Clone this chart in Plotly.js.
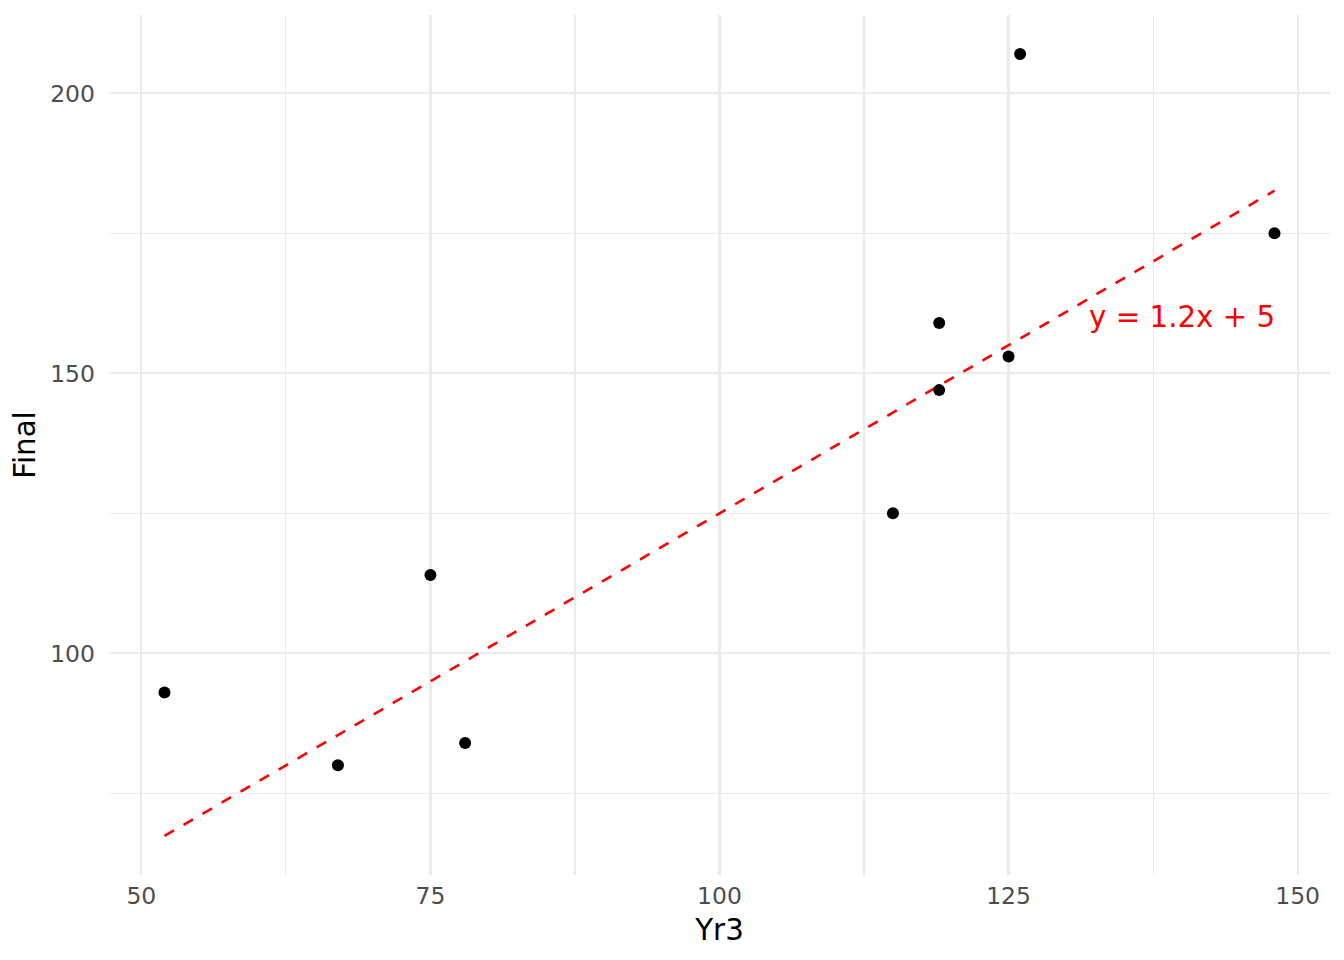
<!DOCTYPE html>
<html>
<head>
<meta charset="utf-8">
<script src="https://cdn.plot.ly/plotly-3.0.1.min.js"></script>
<style>html,body{margin:0;padding:0;background:#fff;}#chart{width:1344px;height:960px;}</style>
</head>
<body>
<div id="chart"></div>
<script>
const yr3 = [52, 67, 75, 78, 115, 119, 119, 125, 126, 148];
const finalScore = [93, 80, 114, 84, 125, 159, 147, 153, 207, 175];
const fitX = [52, 148];
const fitY = [67.4, 182.6];
const fitLabel = "y = 1.2x + 5";
const labelPos = [140, 160];
const xTicks = [50, 75, 100, 125, 150];
const yTicks = [100, 150, 200];

const font = "DejaVu Sans, sans-serif";

const traces = [
  {
    x: fitX, y: fitY, mode: "lines", type: "scatter",
    line: {color: "#FF0000", width: 2.6, dash: "11px,11px"},
    hoverinfo: "skip", showlegend: false
  },
  {
    x: yr3, y: finalScore, mode: "markers", type: "scatter",
    marker: {color: "#000000", size: 12},
    showlegend: false
  }
];

const layout = {
  width: 1344, height: 960,
  paper_bgcolor: "#FFFFFF", plot_bgcolor: "#FFFFFF",
  margin: {l: 109, r: 14, t: 15, b: 85},
  showlegend: false,
  font: {family: font},
  xaxis: {
    range: [47.2, 152.8],
    tickvals: xTicks, ticktext: xTicks.map(String),
    showgrid: true, gridcolor: "#EBEBEB", gridwidth: 2.2,
    minor: {tick0: 62.5, dtick: 25, showgrid: true, gridcolor: "#EBEBEB", gridwidth: 1.1},
    zeroline: false, showline: false, ticks: "",
    tickfont: {family: font, size: 23.5, color: "#4D4D4D"},
    ticklabelstandoff: 4,
    title: {text: "Yr3", font: {family: font, size: 29.3, color: "#000000"}, standoff: 10}
  },
  yaxis: {
    range: [60.42, 213.98],
    tickvals: yTicks, ticktext: yTicks.map(String),
    showgrid: true, gridcolor: "#EBEBEB", gridwidth: 2.2,
    minor: {tick0: 75, dtick: 50, showgrid: true, gridcolor: "#EBEBEB", gridwidth: 1.1},
    zeroline: false, showline: false, ticks: "",
    tickfont: {family: font, size: 23.5, color: "#4D4D4D"},
    ticklabelstandoff: 13,
    title: {text: "Final", font: {family: font, size: 29.3, color: "#000000"}, standoff: 5}
  },
  annotations: [{
    x: labelPos[0], y: labelPos[1], xref: "x", yref: "y",
    text: fitLabel, showarrow: false,
    xanchor: "center", yanchor: "middle",
    font: {family: font, size: 29.3, color: "#FF0000"}
  }]
};

Plotly.newPlot("chart", traces, layout, {displayModeBar: false, staticPlot: true});
</script>
</body>
</html>
